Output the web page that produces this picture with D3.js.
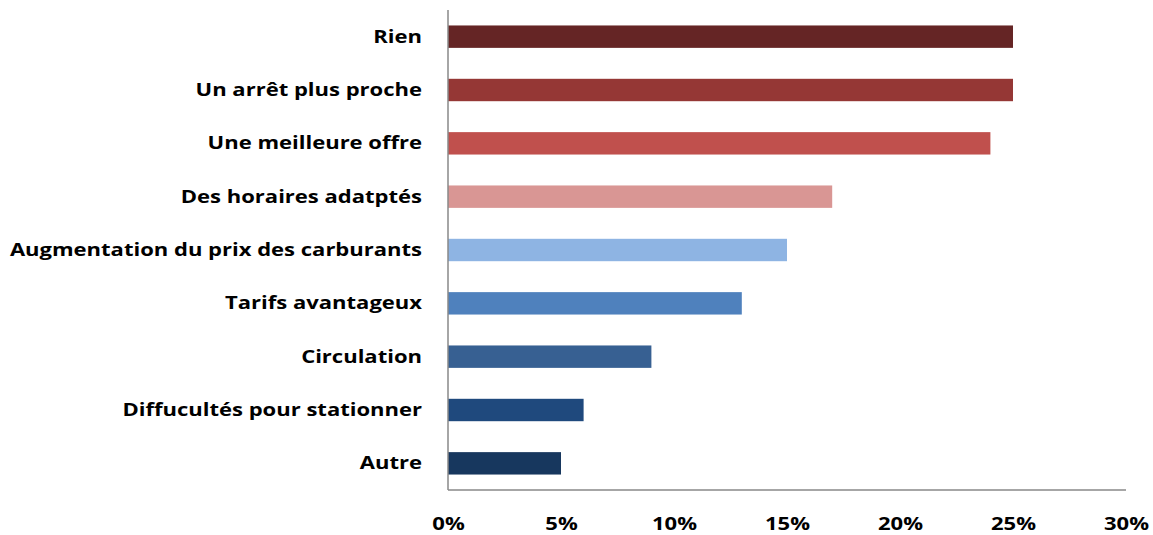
<!DOCTYPE html>
<html>
<head>
<meta charset="utf-8">
<script src="https://cdn.jsdelivr.net/npm/d3@7"></script>
<style>
  html, body { margin: 0; padding: 0; background: #fff; }
  svg text { font-family: "Open Sans", sans-serif; font-weight: bold; fill: #000; }
</style>
</head>
<body>
<svg id="chart" width="1153" height="535"></svg>
<script>
// Reasons that would lead to using public transport (share of answers)
const categories = [
  "Rien",
  "Un arrêt plus proche",
  "Une meilleure offre",
  "Des horaires adatptés",
  "Augmentation du prix des carburants",
  "Tarifs avantageux",
  "Circulation",
  "Diffucultés pour stationner",
  "Autre"
];
const values = [25, 25, 24, 17, 15, 13, 9, 6, 5];
const barColors = [
  "#652525", "#953735", "#C0504D", "#D99694",
  "#8EB4E3", "#4F81BD", "#376092", "#1F497D", "#17375E"
];
const tickValues = [0, 5, 10, 15, 20, 25, 30];

const svg = d3.select("#chart");
const plotLeft = 448, plotRight = 1126, plotTop = 10, plotBottom = 490;
const fontSize = "18.5px";
const stretch = 1.19;        // labels are set slightly wide
const labelGap = 26;

const x = d3.scaleLinear().domain([0, 30]).range([plotLeft, plotRight]);
const y = d3.scaleBand().domain(categories).range([plotTop, plotBottom])
  .paddingInner(0.58).paddingOuter(0.29);

// bars
svg.append("g").selectAll("rect")
  .data(categories)
  .join("rect")
  .attr("x", x(0))
  .attr("y", d => y(d))
  .attr("width", (d, i) => x(values[i]) - x(0))
  .attr("height", y.bandwidth())
  .attr("fill", (d, i) => barColors[i]);

// category axis
const yAxis = svg.append("g")
  .attr("transform", `translate(${plotLeft},0)`)
  .call(d3.axisLeft(y).tickSize(0).tickPadding(labelGap));
yAxis.select(".domain").remove();
yAxis.selectAll("text")
  .style("font-size", fontSize)
  .attr("x", -labelGap / stretch)
  .attr("transform", `scale(${stretch},1)`);

// value axis
const xAxis = svg.append("g")
  .attr("transform", `translate(0,${plotBottom})`)
  .call(d3.axisBottom(x).tickValues(tickValues).tickSize(0).tickPadding(27)
    .tickFormat(d => d + "%"));
xAxis.select(".domain").remove();
xAxis.selectAll("text")
  .style("font-size", fontSize)
  .attr("transform", `scale(${stretch},1)`);

// axis lines
svg.append("line")
  .attr("x1", plotLeft).attr("x2", plotLeft).attr("y1", plotTop).attr("y2", plotBottom)
  .attr("stroke", "#888").attr("stroke-width", 1.5);
svg.append("line")
  .attr("x1", plotLeft).attr("x2", plotRight).attr("y1", plotBottom).attr("y2", plotBottom)
  .attr("stroke", "#888").attr("stroke-width", 1.5);
</script>
</body>
</html>
